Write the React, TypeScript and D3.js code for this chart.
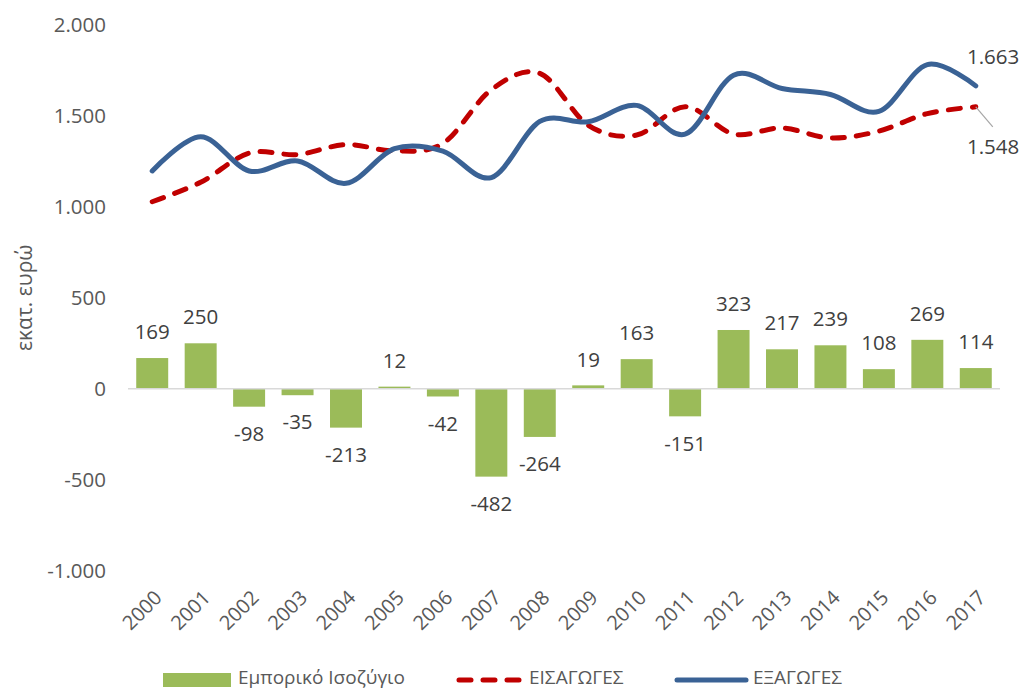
import { useEffect, useRef } from 'react'
import * as d3 from 'd3'

const YEARS = [
  '2000', '2001', '2002', '2003', '2004', '2005', '2006', '2007', '2008',
  '2009', '2010', '2011', '2012', '2013', '2014', '2015', '2016', '2017',
]

// Εμπορικό Ισοζύγιο (bars)
const BALANCE = [169, 250, -98, -35, -213, 12, -42, -482, -264, 19, 163, -151, 323, 217, 239, 108, 269, 114]

// ΕΞΑΓΩΓΕΣ (blue solid line)
const EXPORTS = [1196, 1384, 1196, 1251, 1128, 1318, 1305, 1160, 1468, 1466, 1556, 1398, 1722, 1649, 1616, 1523, 1780, 1663]

// ΕΙΣΑΓΩΓΕΣ (red dashed line)
const IMPORTS = [1027, 1134, 1294, 1286, 1341, 1306, 1347, 1642, 1732, 1447, 1393, 1549, 1399, 1432, 1377, 1415, 1511, 1548]

const Y_TICKS = [-1000, -500, 0, 500, 1000, 1500, 2000]

const GREEN = '#9BBB59'
const RED = '#C00000'
const BLUE = '#3A6295'
const FONT = "'Open Sans', 'Noto Sans', sans-serif"

const locale = d3.formatLocale({
  decimal: ',',
  thousands: '.',
  grouping: [3],
  currency: ['', '€'],
  minus: '-',
})
const fmt = locale.format(',')

export default function App() {
  const svgRef = useRef<SVGSVGElement>(null)

  useEffect(() => {
    if (!svgRef.current) return
    const width = 1024
    const height = 691

    const svg = d3.select(svgRef.current)
    svg.selectAll('*').remove()
    svg.append('rect').attr('width', width).attr('height', height).attr('fill', '#ffffff')

    const x = d3.scaleBand<string>().domain(YEARS).range([128, 1000]).paddingInner(0.34).paddingOuter(0.17)
    const y = d3.scaleLinear().domain([-1000, 2000]).range([571, 24.5])
    const cx = (i: number) => (x(YEARS[i]) as number) + x.bandwidth() / 2

    // Y tick labels
    svg.append('g')
      .selectAll('text')
      .data(Y_TICKS)
      .join('text')
      .attr('x', 106)
      .attr('y', (d) => y(d))
      .attr('dy', '0.35em')
      .attr('text-anchor', 'end')
      .attr('font-family', FONT)
      .attr('font-size', 20.5)
      .attr('fill', '#595959')
      .text((d) => fmt(d))

    // Y axis title
    svg.append('text')
      .attr('transform', `translate(25,${(y(2000) + y(-1000)) / 2}) rotate(-90)`)
      .attr('dy', '0.35em')
      .attr('text-anchor', 'middle')
      .attr('font-family', FONT)
      .attr('font-size', 21)
      .attr('fill', '#595959')
      .text('εκατ. ευρώ')

    // Bars
    svg.append('g')
      .selectAll('rect')
      .data(BALANCE)
      .join('rect')
      .attr('x', (_, i) => x(YEARS[i]) as number)
      .attr('width', x.bandwidth())
      .attr('y', (d) => y(Math.max(0, d)))
      .attr('height', (d) => Math.abs(y(d) - y(0)))
      .attr('fill', GREEN)

    // Zero line
    svg.append('line')
      .attr('x1', 128)
      .attr('x2', 1000)
      .attr('y1', y(0))
      .attr('y2', y(0))
      .attr('stroke', '#D9D9D9')
      .attr('stroke-width', 1.5)

    // Bar labels
    svg.append('g')
      .selectAll('text')
      .data(BALANCE)
      .join('text')
      .attr('x', (_, i) => cx(i))
      .attr('y', (d) => (d >= 0 ? y(d) - 26 : y(d) + 27))
      .attr('dy', '0.35em')
      .attr('text-anchor', 'middle')
      .attr('font-family', FONT)
      .attr('font-size', 20.5)
      .attr('fill', '#404040')
      .text((d) => fmt(d))

    // Lines (Excel-style smoothing)
    const line = d3
      .line<number>()
      .x((_, i) => cx(i))
      .y((d) => y(d))
      .curve(d3.curveCardinal.tension(0))

    svg.append('path')
      .datum(IMPORTS)
      .attr('d', line)
      .attr('fill', 'none')
      .attr('stroke', RED)
      .attr('stroke-width', 5)
      .attr('stroke-dasharray', '12 12')
      .attr('stroke-linecap', 'round')

    svg.append('path')
      .datum(EXPORTS)
      .attr('d', line)
      .attr('fill', 'none')
      .attr('stroke', BLUE)
      .attr('stroke-width', 5)
      .attr('stroke-linecap', 'round')
      .attr('stroke-linejoin', 'round')

    // End-point labels
    const last = YEARS.length - 1
    svg.append('text')
      .attr('x', 967)
      .attr('y', y(EXPORTS[last]) - 29)
      .attr('dy', '0.35em')
      .attr('font-family', FONT)
      .attr('font-size', 20.5)
      .attr('fill', '#404040')
      .text(fmt(EXPORTS[last]))

    svg.append('line')
      .attr('x1', cx(last))
      .attr('y1', y(IMPORTS[last]))
      .attr('x2', cx(last) + 17)
      .attr('y2', y(IMPORTS[last]) + 20)
      .attr('stroke', '#A6A6A6')
      .attr('stroke-width', 1.2)

    svg.append('text')
      .attr('x', 967)
      .attr('y', y(IMPORTS[last]) + 40)
      .attr('dy', '0.35em')
      .attr('font-family', FONT)
      .attr('font-size', 20.5)
      .attr('fill', '#404040')
      .text(fmt(IMPORTS[last]))

    // X tick labels, rotated
    svg.append('g')
      .selectAll('text')
      .data(YEARS)
      .join('text')
      .attr('transform', (_, i) => `translate(${cx(i) + 6},${594}) rotate(-45)`)
      .attr('dy', '0.35em')
      .attr('text-anchor', 'end')
      .attr('font-family', FONT)
      .attr('font-size', 20)
      .attr('fill', '#595959')
      .text((d) => d)

    // Legend
    const ly = 679
    const lg = svg.append('g').attr('font-family', FONT).attr('font-size', 19).attr('fill', '#595959')
    lg.append('rect').attr('x', 163).attr('y', ly - 6).attr('width', 68).attr('height', 14).attr('fill', GREEN)
    lg.append('text').attr('x', 238).attr('y', 684).text('Εμπορικό Ισοζύγιο')
    lg.append('line')
      .attr('x1', 459).attr('x2', 521).attr('y1', ly + 1).attr('y2', ly + 1)
      .attr('stroke', RED).attr('stroke-width', 5)
      .attr('stroke-dasharray', '12 12').attr('stroke-linecap', 'round')
    lg.append('text').attr('x', 529).attr('y', 684).text('ΕΙΣΑΓΩΓΕΣ')
    lg.append('line')
      .attr('x1', 677).attr('x2', 746).attr('y1', ly + 1).attr('y2', ly + 1)
      .attr('stroke', BLUE).attr('stroke-width', 5).attr('stroke-linecap', 'round')
    lg.append('text').attr('x', 753).attr('y', 684).text('ΕΞΑΓΩΓΕΣ')
  }, [])

  return (
    <div style={{ position: 'absolute', left: 0, top: 0 }}>
      <svg ref={svgRef} width={1024} height={691} style={{ display: 'block' }} />
    </div>
  )
}
